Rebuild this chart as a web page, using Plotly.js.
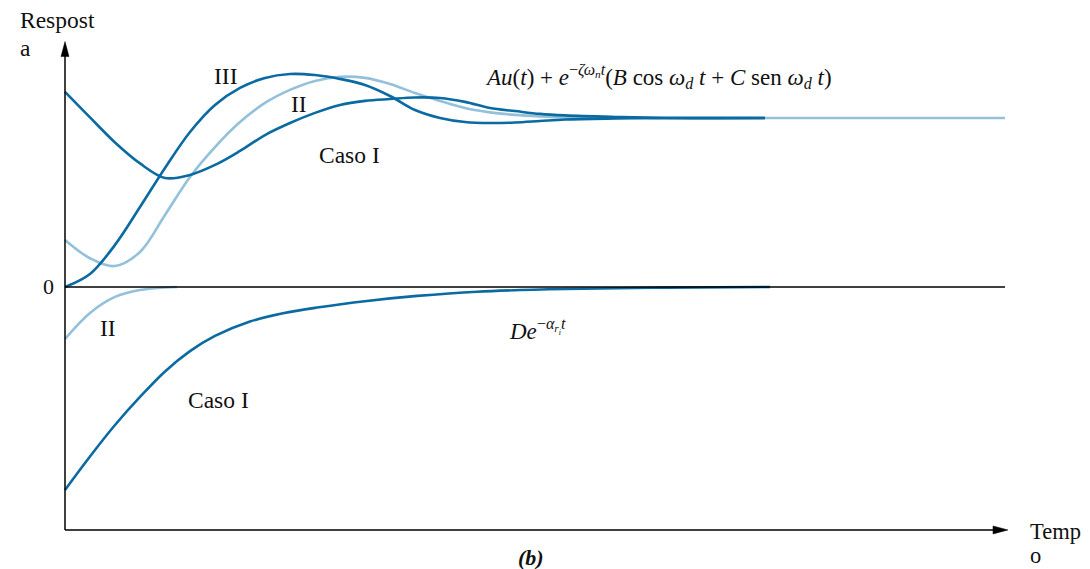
<!DOCTYPE html>
<html>
<head>
<meta charset="utf-8">
<script src="https://cdn.plot.ly/plotly-3.0.1.min.js"></script>
<style>html,body{margin:0;padding:0;background:#fff;}#chart{width:1090px;height:569px;}</style>
</head>
<body>
<div id="chart"></div>
<script>
// Time axis (arbitrary units) and response values
const casoIUpperT = [0, 0.25, 0.5, 0.75, 1.0, 1.25, 1.5, 1.75, 2.0, 2.25, 2.5, 2.75, 3.0, 3.25, 3.5, 3.75, 4.0, 4.25, 4.5, 4.75, 5.0, 5.5, 6.0, 7.0];
const casoIUpperY = [1.154, 1.003, 0.855, 0.731, 0.645, 0.663, 0.722, 0.805, 0.899, 0.970, 1.030, 1.077, 1.101, 1.112, 1.121, 1.118, 1.095, 1.059, 1.041, 1.024, 1.015, 1.006, 1.0, 1.0];

const caseIIIT = [0, 0.25, 0.5, 0.75, 1.0, 1.25, 1.5, 1.75, 2.0, 2.25, 2.5, 2.75, 3.0, 3.25, 3.5, 3.75, 4.0, 4.25, 4.5, 4.75, 5.0, 5.5, 6.0, 7.0];
const caseIIIY = [0, 0.077, 0.249, 0.473, 0.704, 0.917, 1.077, 1.178, 1.237, 1.260, 1.254, 1.231, 1.195, 1.130, 1.047, 1.0, 0.976, 0.970, 0.973, 0.982, 0.991, 0.997, 1.0, 1.0];

const caseIIUpperT = [0, 0.25, 0.5, 0.75, 1.0, 1.25, 1.5, 1.75, 2.0, 2.25, 2.5, 2.75, 3.0, 3.25, 3.5, 3.75, 4.0, 4.25, 4.5, 4.75, 5.0, 5.5, 9.4];
const caseIIUpperY = [0.278, 0.170, 0.124, 0.207, 0.426, 0.651, 0.828, 0.976, 1.089, 1.166, 1.219, 1.243, 1.237, 1.201, 1.148, 1.101, 1.059, 1.033, 1.018, 1.009, 1.003, 1.0, 1.0];

const caseIILowerT = [0, 0.25, 0.5, 0.75, 1.0, 1.12];
const caseIILowerY = [-0.308, -0.154, -0.059, -0.018, -0.003, 0];

const casoILowerT = [0, 0.25, 0.5, 0.75, 1.0, 1.25, 1.5, 1.85, 2.18, 2.52, 3.02, 3.52, 4.12, 5.0, 6.0, 7.05];
const casoILowerY = [-1.201, -1.003, -0.817, -0.651, -0.500, -0.380, -0.290, -0.205, -0.156, -0.122, -0.083, -0.053, -0.028, -0.012, -0.004, 0];

const yTickVals = [0];
const yTickText = ['0'];

// axis extents (data units)
const T_MAX = 9.4;
const Y_MIN = -1.438;
const Y_TOP = 1.452;

const DARK = '#0a6aa1';
const LIGHT = '#93c0da';
const SERIF = 'Liberation Serif, Times New Roman, serif';

function curve(t, y, color) {
  return {x: t, y: y, type: 'scatter', mode: 'lines',
          line: {color: color, width: 2.6, shape: 'spline', smoothing: 1},
          hoverinfo: 'skip', showlegend: false};
}

const data = [
  curve(caseIIUpperT, caseIIUpperY, LIGHT),
  curve(caseIILowerT, caseIILowerY, LIGHT),
  curve(casoIUpperT, casoIUpperY, DARK),
  curve(caseIIIT, caseIIIY, DARK),
  curve(casoILowerT, casoILowerY, DARK)
];

function txt(x, y, text, size, opts) {
  return Object.assign({x: x, y: y, xref: 'x', yref: 'y', text: text, showarrow: false,
    font: {family: SERIF, size: size, color: '#111'}, xanchor: 'center', yanchor: 'middle'}, opts || {});
}

const annotations = [
  txt(-0.47, 1.580, 'Respost', 23.5, {xanchor: 'left'}),
  txt(-0.47, 1.414, 'a', 23.5, {xanchor: 'left'}),
  txt(1.60, 1.249, 'III', 23.5),
  txt(2.34, 1.083, 'II', 23.5),
  txt(2.84, 0.781, 'Caso I', 23.5),
  txt(4.18, 1.243, '<i>Au</i>(<i>t</i>) + <i>e</i><sup>−<i>ζω<sub>n</sub>t</i></sup>(<i>B</i> cos <i>ω<sub>d</sub> t</i> + <i>C</i> sen <i>ω<sub>d</sub> t</i>)', 23, {xanchor: 'left'}),
  txt(0.43, -0.243, 'II', 23.5),
  txt(4.42, -0.254, '<i>De</i><sup>−<i>α<sub>r<sub>i</sub></sub>t</i></sup>', 23, {xanchor: 'left'}),
  txt(1.53, -0.669, 'Caso I', 23.5),
  txt(9.63, -1.450, 'Temp', 22.5, {xanchor: 'left'}),
  txt(9.63, -1.59, 'o', 22.5, {xanchor: 'left'}),
  txt(4.66, -1.598, '<b><i>(b)</i></b>', 22),
  txt(-0.09, 0, yTickText[0], 22, {xanchor: 'right'})
];

const shapes = [
  // y axis
  {type: 'line', xref: 'x', yref: 'y', x0: 0, x1: 0, y0: Y_MIN, y1: Y_TOP - 0.06, line: {color: '#000', width: 1.5}},
  // x axis
  {type: 'line', xref: 'x', yref: 'y', x0: 0, x1: T_MAX - 0.06, y0: Y_MIN, y1: Y_MIN, line: {color: '#000', width: 1.5}},
  // zero line
  {type: 'line', xref: 'x', yref: 'y', x0: 0, x1: T_MAX, y0: yTickVals[0], y1: yTickVals[0], line: {color: '#000', width: 1.5}},
  // arrowheads
  {type: 'path', xref: 'x', yref: 'y', xsizemode: 'pixel', ysizemode: 'pixel',
   xanchor: 0, yanchor: Y_TOP, path: 'M0,0 L-4,-15 L4,-15 Z',
   fillcolor: '#000', line: {color: '#000', width: 0.5}},
  {type: 'path', xref: 'x', yref: 'y', xsizemode: 'pixel', ysizemode: 'pixel',
   xanchor: T_MAX, yanchor: Y_MIN, path: 'M3,0 L-12,4 L-12,-4 Z',
   fillcolor: '#000', line: {color: '#000', width: 0.5}}
];

const layout = {
  width: 1090, height: 569,
  margin: {l: 0, r: 0, t: 0, b: 0, pad: 0},
  paper_bgcolor: '#fff', plot_bgcolor: '#fff',
  showlegend: false,
  xaxis: {range: [-0.65, 10.25], visible: false, fixedrange: true},
  yaxis: {range: [-1.669, 1.698], visible: false, fixedrange: true},
  annotations: annotations,
  shapes: shapes
};

Plotly.newPlot('chart', data, layout, {displayModeBar: false, staticPlot: true});
</script>
</body>
</html>
